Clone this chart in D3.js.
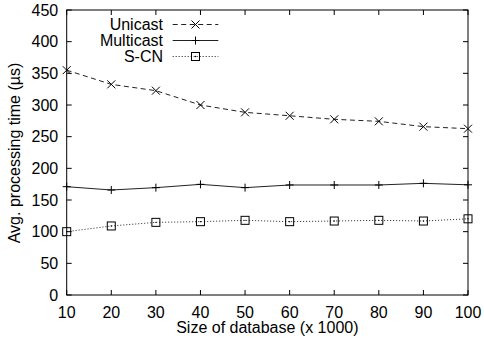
<!DOCTYPE html>
<html><head><meta charset="utf-8">
<script src="https://cdn.jsdelivr.net/npm/d3@7"></script>
<style>
body{margin:0;background:#fff;}
svg text{font-family:"Liberation Sans",Arial,Helvetica,sans-serif;fill:#000;}
</style></head>
<body><svg id="c" width="484" height="345"></svg>
<script>
const sizes = [10,20,30,40,50,60,70,80,90,100];
const unicast = [355,332.6,322.6,300,288.4,283,277.4,274.2,265.8,262.6];
const multicast = [171,165.8,169.5,174.7,169.5,173.7,173.7,173.7,176.3,174];
const scn = [100,109,114.7,115.8,117.9,115.8,116.8,117.9,116.8,120.3];
const yTicks = [0,50,100,150,200,250,300,350,400,450];
const seriesNames = ["Unicast","Multicast","S-CN"];
const xTitle = "Size of database (x 1000)";
const yTitle = "Avg. processing time (µs)";

const svg = d3.select("#c");
const L=66.7,R=468,T=10,B=295;
const x = d3.scaleLinear().domain([10,100]).range([L,R]);
const y = d3.scaleLinear().domain([0,450]).range([B,T]);
const fs = 16, tl = 5;

svg.append("rect").attr("x",L).attr("y",T).attr("width",R-L).attr("height",B-T)
  .attr("fill","none").attr("stroke","#000").attr("stroke-width",1);

const g = svg.append("g").attr("stroke","#000").attr("stroke-width",1);
yTicks.forEach(v=>{
  g.append("line").attr("x1",L).attr("x2",L+tl).attr("y1",y(v)).attr("y2",y(v));
  g.append("line").attr("x1",R).attr("x2",R-tl).attr("y1",y(v)).attr("y2",y(v));
  svg.append("text").attr("x",L-8.5).attr("y",y(v)+5.5).attr("text-anchor","end")
    .attr("font-size",fs).text(v);
});
sizes.forEach(v=>{
  g.append("line").attr("x1",x(v)).attr("x2",x(v)).attr("y1",B).attr("y2",B-tl);
  g.append("line").attr("x1",x(v)).attr("x2",x(v)).attr("y1",T).attr("y2",T+tl);
  svg.append("text").attr("x",x(v)).attr("y",317.5).attr("text-anchor","middle")
    .attr("font-size",fs).text(v);
});
svg.append("text").attr("x",(L+R)/2).attr("y",333).attr("text-anchor","middle")
  .attr("font-size",fs).text(xTitle);
svg.append("text").attr("transform","translate(20,153) rotate(-90)")
  .attr("text-anchor","middle").attr("font-size",fs).text(yTitle);

const styles = [
  {vals:unicast, dash:"5,3.5", mk:"x"},
  {vals:multicast, dash:null, mk:"+"},
  {vals:scn, dash:"1,2", mk:"s"}
];
const line = d3.line().x((d,i)=>x(sizes[i])).y(d=>y(d));
function marker(gg,cx,cy,t){
  const s=4;
  if(t==="x"){
    gg.append("path").attr("d",`M${cx-s},${cy-s}L${cx+s},${cy+s}M${cx-s},${cy+s}L${cx+s},${cy-s}`)
      .attr("stroke","#000").attr("stroke-width",1).attr("fill","none");
  } else if(t==="+"){
    gg.append("path").attr("d",`M${cx-s},${cy}L${cx+s},${cy}M${cx},${cy-s}L${cx},${cy+s}`)
      .attr("stroke","#000").attr("stroke-width",1).attr("fill","none");
  } else {
    gg.append("rect").attr("x",cx-s).attr("y",cy-s).attr("width",2*s).attr("height",2*s)
      .attr("stroke","#000").attr("stroke-width",1).attr("fill","none");
    gg.append("circle").attr("cx",cx).attr("cy",cy).attr("r",0.7).attr("fill","#000");
  }
}
styles.forEach((s,k)=>{
  const gg = svg.append("g");
  gg.append("path").attr("d",line(s.vals)).attr("fill","none").attr("stroke","#222")
    .attr("stroke-width",1).attr("stroke-dasharray",s.dash);
  s.vals.forEach((v,i)=>marker(gg,x(sizes[i]),y(v),s.mk));
  const ly = 24.5 + k*16;
  svg.append("text").attr("x",163).attr("y",ly+5.5).attr("text-anchor","end")
    .attr("font-size",fs).text(seriesNames[k]);
  gg.append("line").attr("x1",172.7).attr("x2",218.3).attr("y1",ly).attr("y2",ly)
    .attr("stroke","#222").attr("stroke-width",1).attr("stroke-dasharray",s.dash);
  marker(gg,195.5,ly,s.mk);
});
</script></body></html>
